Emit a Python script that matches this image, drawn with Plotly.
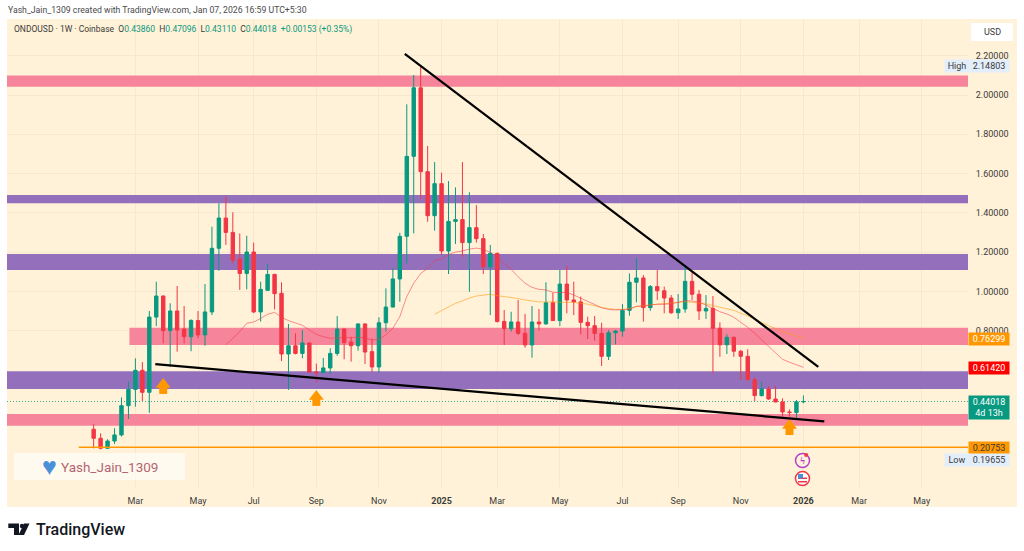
import pandas as pd
import plotly.graph_objects as go

opens = [.299,.253,.202,.239,.270,.419,.502,.599,.487,.870,.977,.801,.901,.809,.770,.852,.779,.896,1.220,1.374,
 1.301,1.165,1.092,1.201,.896,1.006,1.087,.991,.682,.724,.685,.738,.590,.587,.611,.685,.809,.743,.724,.835,
 .694,.616,.841,.921,1.064,1.281,1.688,2.037,1.610,1.386,1.549,1.206,1.357,1.366,1.249,1.325,1.269,1.126,1.194,.848,
 .811,.845,.787,.728,.845,.835,.943,.852,1.038,.957,.947,.843,.826,.787,.670,.790,.799,.904,1.047,1.069,
 .918,1.025,1.004,.967,.892,.911,1.052,.986,.901,.914,.813,.729,.767,.696,.670,.551,.470,.504,.453,.438,
 .387,.384,.43860]
highs = [.324,.278,.248,.304,.461,.541,.660,.641,.901,1.050,.980,.940,1.028,.926,.858,.901,1.038,1.330,1.449,1.483,
 1.403,1.296,1.284,1.249,1.050,1.140,1.090,1.047,.835,.787,.804,.742,.633,.662,.711,.875,.812,.770,.838,.838,
 .760,.869,1.016,1.118,1.299,1.953,2.102,2.14803,1.741,1.659,1.605,1.562,1.530,1.659,1.505,1.440,1.293,1.237,1.198,.906,
 .897,.957,.886,.926,.911,1.047,.994,1.109,1.131,1.050,.974,.872,.875,.841,.804,.804,.936,1.092,1.169,1.084,
 1.033,1.109,1.025,.982,.987,1.135,1.101,1.008,.982,.977,.843,.782,.770,.702,.706,.563,.541,.519,.519,.456,
 .400,.448,.47096]
lows = [.202,.19655,.200,.224,.262,.351,.414,.443,.383,.824,.736,.617,.694,.736,.696,.762,.724,.880,1.106,1.237,
 1.143,1.008,1.011,.890,.847,1.003,.909,.646,.499,.680,.660,.588,.538,.585,.580,.673,.655,.643,.699,.631,
 .590,.587,.796,.919,.948,1.143,1.296,1.471,1.355,1.310,1.186,1.089,1.242,1.177,.999,1.249,1.089,.880,.843,.728,
 .796,.779,.714,.663,.801,.832,.850,.824,.889,.880,.782,.758,.750,.621,.651,.731,.770,.877,.945,.847,
 .902,.957,.889,.886,.860,.892,.957,.855,.860,.584,.668,.682,.668,.550,.549,.443,.466,.449,.436,.363,
 .363,.355,.43110]
closes = [.253,.202,.239,.270,.419,.502,.599,.487,.870,.977,.801,.901,.804,.770,.853,.779,.896,1.220,1.374,1.301,
 1.160,1.092,1.201,.896,1.011,1.087,.989,.682,.724,.685,.738,.590,.587,.611,.685,.809,.740,.724,.835,.692,
 .616,.841,.921,1.064,1.281,1.688,2.037,1.610,1.386,1.549,1.206,1.357,1.366,1.249,1.325,1.269,1.126,1.194,.847,.811,
 .845,.787,.728,.845,.835,.943,.852,1.038,.957,.947,.843,.826,.787,.670,.790,.799,.904,1.047,1.069,.918,
 1.025,1.004,.967,.892,.911,1.052,.986,.901,.914,.813,.729,.767,.696,.670,.551,.470,.504,.453,.438,.387,
 .384,.43860,.44018]
dates = pd.date_range("2024-01-22", periods=len(closes), freq="7D")

ma_fast = [.729,.765,.796,.838,.845,.863,.884,.894,.869,.852,.838,.828,.804,.782,.770,.762,.763,.767,.765,.767,.763,.753,.758,
 .779,.813,.872,.974,1.042,1.092,1.118,1.159,1.165,1.189,1.201,1.206,1.216,1.221,1.215,1.199,1.177,1.143,1.113,1.075,1.042,1.021,1.011,1.008,.996,.994,.996,
 .982,.965,.952,.931,.918,.909,.906,.908,.909,.925,.926,.931,.935,.935,.938,.945,.953,.952,.945,.931,.914,.897,.886,.869,.843,.818,.787,.753,.719,.685,.655,.640,.628,.6142]
ma_slow = [.884,.902,.923,.940,.952,.967,.977,.982,.986,.979,.975,.970,.964,.957,.952,.947,.947,.948,.945,.945,
 .945,.940,.936,.928,.918,.913,.909,.909,.914,.923,.928,.933,.936,.938,.941,.945,.948,.945,.943,.938,.928,.919,.913,.904,.889,.877,.858,.841,.826,.812,.795,.785,.774,.76299]

price_ticks = [0.8, 1.0, 1.2, 1.4, 1.6, 1.8, 2.0, 2.2]
tick_dates = ["2024-03-04","2024-05-06","2024-07-01","2024-09-02","2024-11-04","2025-01-06","2025-03-03","2025-05-05","2025-07-07","2025-09-01","2025-11-03","2026-01-05","2026-03-02","2026-05-04"]
tick_text = ["Mar","May","Jul","Sep","Nov","<b>2025</b>","Mar","May","Jul","Sep","Nov","<b>2026</b>","Mar","May"]

x_start, x_end = "2023-10-26 20:00", "2026-06-19 14:00"
y_start, y_end = 0.005, 2.382

pink, purple = "#F6859B", "#9470BC"
band_starts = [None, None, None, "2024-02-27", None, None]
band_tops = [2.100, 1.491, 1.191, .816, .594, .377]
band_bottoms = [2.042, 1.449, 1.109, .728, .504, .317]
band_colors = [pink, purple, purple, pink, purple, pink]

level_line = 0.20753
level_start = "2024-01-07"
last_price = 0.44018
resist_x = ["2024-11-30", "2026-01-20"]
resist_y = [2.209, 0.616]
support_x = ["2024-03-24", "2026-01-26"]
support_y = [0.630, 0.339]
arrow_idx = [10, 32, 100]
arrow_head_y = [0.527, 0.466, 0.318]
arrow_stem_y = [0.499, 0.438, 0.290]

UP, DOWN = "#089981", "#F23645"
BG = "#FFF2D8"
FONT = "Roboto"

L, T, PW, PH = 7, 20, 961, 467
def X(px): return (px - L) / PW
def Y(py): return (T + PH - py) / PH

fig = go.Figure()
fig.add_trace(go.Candlestick(x=dates, open=opens, high=highs, low=lows, close=closes,
    increasing=dict(line=dict(color=UP, width=1), fillcolor=UP),
    decreasing=dict(line=dict(color=DOWN, width=1), fillcolor=DOWN),
    whiskerwidth=0, showlegend=False, hoverinfo="skip"))
fig.add_trace(go.Scatter(x=dates[-len(ma_slow):], y=ma_slow, mode="lines",
    line=dict(color="rgba(255,152,0,0.55)", width=1), showlegend=False, hoverinfo="skip"))
fig.add_trace(go.Scatter(x=dates[-len(ma_fast):], y=ma_fast, mode="lines",
    line=dict(color="rgba(242,54,69,0.55)", width=1), showlegend=False, hoverinfo="skip"))
fig.add_trace(go.Scatter(x=[level_start, x_end], y=[level_line, level_line], mode="lines",
    line=dict(color="#FF9800", width=1.5), showlegend=False, hoverinfo="skip"))
arrow_x = [dates[i] for i in arrow_idx]
fig.add_trace(go.Scatter(x=arrow_x, y=arrow_stem_y, mode="markers",
    marker=dict(symbol="square", size=8, color="#FF9800", line=dict(width=0)), showlegend=False, hoverinfo="skip"))
fig.add_trace(go.Scatter(x=arrow_x, y=arrow_head_y, mode="markers",
    marker=dict(symbol="triangle-up", size=13, color="#FF9800", line=dict(width=0)), showlegend=False, hoverinfo="skip"))
for xs, ys in ((resist_x, resist_y), (support_x, support_y)):
    fig.add_trace(go.Scatter(x=xs, y=ys, mode="lines", line=dict(color="#000000", width=2.2),
        showlegend=False, hoverinfo="skip"))

def pbox(kind, x0, x1, y0, y1, fill, edge=None, width=0):
    return dict(type=kind, xref="paper", yref="paper", x0=X(x0), x1=X(x1), y0=Y(y1), y1=Y(y0),
                fillcolor=fill, line=dict(color=edge, width=width) if edge else dict(width=0), layer="above")

shapes = [
    dict(type="rect", xref="paper", yref="paper", x0=X(7), x1=X(1017), y0=Y(507), y1=Y(19), fillcolor=BG,
         line=dict(width=0), layer="below"),
    pbox("rect", 14, 185, 453, 480, "rgba(255,255,255,0.6)"),
    pbox("rect", 971, 1013, 23, 41, "#FFFFFF"),
    dict(type="line", xref="paper", yref="y", x0=0, x1=1, y0=last_price, y1=last_price,
         line=dict(color="rgba(8,153,129,0.8)", width=1, dash="1px,2px"), layer="between"),
]
for start, top, bottom, colr in zip(band_starts, band_tops, band_bottoms, band_colors):
    shapes.append(dict(type="rect", xref="x", yref="y", x0=start or x_start, x1=x_end, y0=bottom, y1=top,
                       fillcolor=colr, line=dict(width=0), layer="between"))
# TradingView logo
for path in (
    f"M {X(8.3)} {Y(523.5)} L {X(19)} {Y(523.5)} L {X(19)} {Y(535)} L {X(14)} {Y(535)} L {X(14)} {Y(528)} L {X(8.3)} {Y(528)} Z",
    f"M {X(24)} {Y(523.5)} L {X(29.5)} {Y(523.5)} L {X(24)} {Y(535)} L {X(18.5)} {Y(535)} Z",
):
    shapes.append(dict(type="path", xref="paper", yref="paper", path=path, fillcolor="#131722", line=dict(width=0)))
shapes.append(pbox("circle", 19.8, 24.2, 523.8, 528.2, "#131722"))
# event icons
shapes += [
    pbox("circle", 795.5, 809.5, 453.5, 467.5, "#FFF2D8", "#B341D0", 1.5),
    pbox("circle", 804.2, 808.2, 453, 457, "#F23645"),
    pbox("circle", 795.5, 809.5, 471.5, 485.5, "#FFFFFF", "#F23645", 1.5),
    pbox("rect", 798, 807, 481, 482.5, "#F23645"),
    pbox("rect", 798, 807, 477.5, 479, "#F23645"),
    pbox("rect", 798, 803, 474, 478.5, "#4A90D9"),
]

def note(px, py, text, size=9, color="#3b3b3b", anchor="left", bg=None, **kw):
    weight = kw.pop("weight", None)
    f = dict(family=FONT, size=size, color=color)
    if weight:
        f["weight"] = weight
    return dict(xref="paper", yref="paper", x=X(px), y=Y(py), text=text, showarrow=False, xanchor=anchor,
                yanchor="middle", font=f, bgcolor=bg, borderpad=0, **kw)

teal = "#089981"
head = ("ONDOUSD · 1W · Coinbase  "
        f"O<span style='color:{teal}'>0.43860</span>  H<span style='color:{teal}'>0.47096</span>  "
        f"L<span style='color:{teal}'>0.43110</span>  C<span style='color:{teal}'>0.44018</span>  "
        f"<span style='color:{teal}'>+0.00153 (+0.35%)</span>")

def label(py, text, bg, color, height=12):
    return note(989, py, text, size=9, color=color, anchor="center", bg=bg, width=40, height=height, align="center")

annos = [
    note(7, 10, "Yash_Jain_1309 created with TradingView.com, Jan 07, 2026 16:59 UTC+5:30", size=8.7, color="#4a4a4a"),
    note(13, 29, head.replace("  ", " &nbsp;"), size=8.5, color="#3b3b3b"),
    note(992, 32, "USD", size=9, anchor="center"),
    note(957, 66, "High", size=9, anchor="center", bg="#E3EEFB", width=24, height=12),
    label(66, "2.14803", "#E3EEFB", "#3b3b3b"),
    label(338.5, "0.76299", "#FF9800", "#FFFFFF"),
    label(367.5, "0.61420", "#FF0000", "#FFFFFF"),
    label(407, "0.44018<br>4d 13h", "#089981", "#FFFFFF", height=23),
    label(447.5, "0.20753", "#FF9800", "#3b3b3b"),
    note(957, 460, "Low", size=9, anchor="center", bg="#E3EEFB", width=24, height=12),
    label(460, "0.19655", "#E3EEFB", "#3b3b3b"),
    note(41, 466, "♥", size=25, color="#4A90D9"),
    note(60, 466.5, "Yash_Jain_1309", size=13.5, color="#B4656F"),
    note(35, 529, "TradingView", size=16, color="#131722", weight=500),
    note(802, 460.5, "<b>ϟ</b>", size=11, color="#B341D0", anchor="center"),
]

fig.update_layout(
    width=1024, height=551, margin=dict(l=L, r=1024 - L - PW, t=T, b=551 - T - PH, pad=0),
    paper_bgcolor="#FFFFFF", plot_bgcolor=BG, shapes=shapes, annotations=annos, showlegend=False,
    font=dict(family=FONT, size=9, color="#3b3b3b"),
    xaxis=dict(type="date", range=[x_start, x_end], rangeslider=dict(visible=False), tickvals=tick_dates,
               ticktext=tick_text, ticks="outside", ticklen=5, tickcolor="rgba(0,0,0,0)",
               gridcolor="#F5E8CC", gridwidth=1, showline=False, zeroline=False, tickfont=dict(size=9)),
    yaxis=dict(side="right", range=[y_start, y_end], tickvals=price_ticks,
               ticktext=[f"{v:.5f}" for v in price_ticks], ticks="outside", ticklen=5, tickcolor="rgba(0,0,0,0)",
               gridcolor="#F5E8CC", gridwidth=1, showline=False, zeroline=False, tickfont=dict(size=9)),
)
fig.write_html("out.html", config=dict(displayModeBar=False), post_script="document.body.style.margin='0';")
